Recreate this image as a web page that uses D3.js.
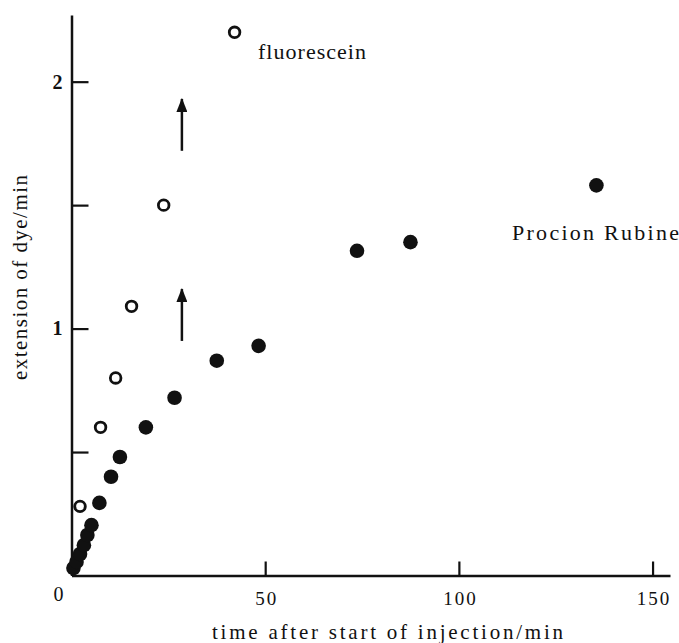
<!DOCTYPE html>
<html>
<head>
<meta charset="utf-8">
<script src="https://cdn.jsdelivr.net/npm/d3@7"></script>
<style>
  body { margin: 0; background: #fff; }
  svg text { font-family: "Liberation Serif", "DejaVu Serif", Times, serif !important; }
</style>
</head>
<body>
<svg width="679" height="643"></svg>
<script>
// fluorescein (open circles): time/min, extension/min
const fluorTime = [2.2, 7.5, 11.4, 15.5, 23.8, 42.1]
const fluorExt = [0.28, 0.60, 0.80, 1.09, 1.50, 2.20]

// Procion Rubine (filled circles)
const rubineTime = [0.5, 1.3, 2.2, 3.2, 4.1, 5.15, 7.2, 10.2, 12.5, 19.2, 26.6, 37.5, 48.3, 73.7, 87.5, 135.5]
const rubineExt = [0.03, 0.055, 0.087, 0.123, 0.164, 0.204, 0.294, 0.40, 0.48, 0.60, 0.72, 0.87, 0.93, 1.315, 1.35, 1.58]

// tick values
const xTicks = [50, 100, 150]
const yTicks = [0.5, 1, 1.5, 2]
const yLabelled = [1, 2]

// arrows: [time, from, to]
const arrows = [[28.5, 0.95, 1.16], [28.5, 1.72, 1.93]]

const svg = d3.select("svg")

let x = d3.scaleLinear()
    .domain([0, 154.5])
    .range([71.5, 670])

let y = d3.scaleLinear()
    .domain([0, 2.27])
    .range([575.5, 15])

// arrow head drawn along +x so orient=auto turns it up the line
svg.append("defs").append("marker")
    .attr("id", "head")
    .attr("viewBox", "0 0 14 11")
    .attr("refX", 13).attr("refY", 5.5)
    .attr("markerWidth", 14).attr("markerHeight", 11)
    .attr("markerUnits", "userSpaceOnUse")
    .attr("orient", "auto")
    .append("path")
    .attr("d", "M0,0 L14,5.5 L0,11 Z")
    .attr("fill", "#111")

// x axis, ticks pointing up
const xAxis = svg.append("g")
    .attr("transform", "translate(0," + y(0) + ")")
    .call(d3.axisBottom(x).tickValues(xTicks).tickSizeInner(-14).tickSizeOuter(0).tickPadding(16))
xAxis.select(".domain").attr("stroke", "#111").attr("stroke-width", 2.5)
xAxis.selectAll(".tick line").attr("stroke", "#111").attr("stroke-width", 2.2)
xAxis.selectAll(".tick text")
    .attr("fill", "#111")
    .attr("font-size", 19)
    .attr("letter-spacing", 2)
    .attr("dx", 1)

// y axis, ticks pointing right
const yAxis = svg.append("g")
    .attr("transform", "translate(" + x(0) + ",0)")
    .call(d3.axisLeft(y).tickValues(yTicks).tickSizeInner(-17).tickSizeOuter(0).tickPadding(9)
        .tickFormat(d => yLabelled.includes(d) ? d : ""))
yAxis.select(".domain").attr("stroke", "#111").attr("stroke-width", 2.5)
yAxis.selectAll(".tick line").attr("stroke", "#111").attr("stroke-width", 2.2)
yAxis.selectAll(".tick text")
    .attr("fill", "#111")
    .attr("font-size", 20)
    .attr("font-weight", "bold")

// shared origin label
svg.append("text")
    .attr("x", x(0) - 13)
    .attr("y", y(0) + 25)
    .attr("text-anchor", "middle")
    .attr("font-size", 20)
    .attr("fill", "#111")
    .text("0")

// axis titles
svg.append("text")
    .attr("x", 212)
    .attr("y", 639)
    .attr("font-size", 21)
    .attr("fill", "#111")
    .attr("textLength", 351)
    .attr("lengthAdjust", "spacing")
    .text("time after start of injection/min")

svg.append("text")
    .attr("transform", "translate(27,380) rotate(-90)")
    .attr("font-size", 21)
    .attr("fill", "#111")
    .attr("textLength", 205)
    .attr("lengthAdjust", "spacing")
    .text("extension of dye/min")

// arrows
svg.append("g")
    .selectAll("line")
    .data(arrows)
    .enter().append("line")
    .attr("x1", d => x(d[0]))
    .attr("x2", d => x(d[0]))
    .attr("y1", d => y(d[1]))
    .attr("y2", d => y(d[2]))
    .attr("stroke", "#111")
    .attr("stroke-width", 2.5)
    .attr("marker-end", "url(#head)")

// Procion Rubine points
svg.append("g")
    .selectAll("circle")
    .data(rubineTime)
    .enter().append("circle")
    .attr("cx", d => x(d))
    .attr("cy", (d, i) => y(rubineExt[i]))
    .attr("r", 7.3)
    .attr("fill", "#111")

// fluorescein points
svg.append("g")
    .selectAll("circle")
    .data(fluorTime)
    .enter().append("circle")
    .attr("cx", d => x(d))
    .attr("cy", (d, i) => y(fluorExt[i]))
    .attr("r", 5.3)
    .attr("fill", "none")
    .attr("stroke", "#111")
    .attr("stroke-width", 2.8)

// series labels
svg.append("text")
    .attr("x", 258)
    .attr("y", 59)
    .attr("font-size", 22)
    .attr("fill", "#111")
    .attr("textLength", 108)
    .attr("lengthAdjust", "spacing")
    .text("fluorescein")

svg.append("text")
    .attr("x", 512)
    .attr("y", 240)
    .attr("font-size", 22)
    .attr("fill", "#111")
    .attr("textLength", 167)
    .attr("lengthAdjust", "spacing")
    .text("Procion Rubine")
</script>
</body>
</html>
